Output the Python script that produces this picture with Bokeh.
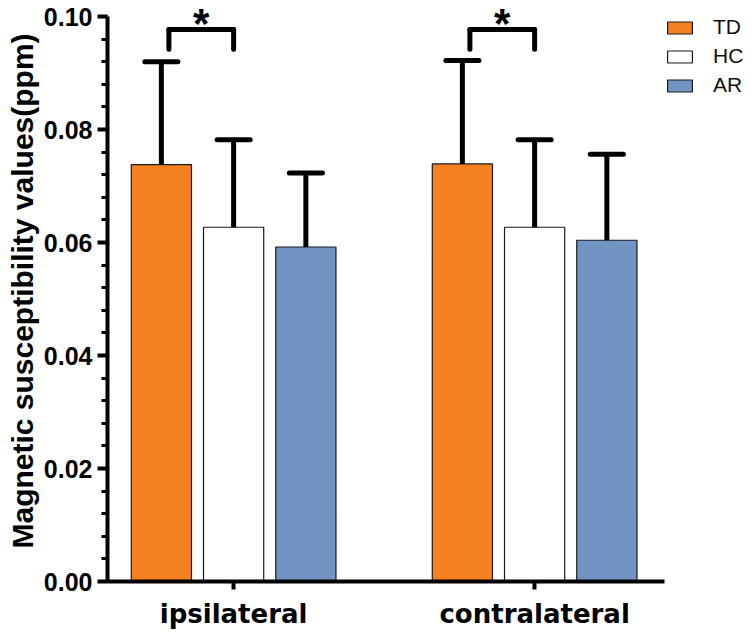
from bokeh.plotting import figure
from bokeh.models import (ColumnDataSource, Range1d, SingleIntervalTicker, FixedTicker,
                          Legend, LegendItem, PrintfTickFormatter)
from bokeh.transform import dodge
from bokeh.core.properties import value
from bokeh.embed import file_html
from bokeh.resources import INLINE

# ---- data ----
categories = ["ipsilateral", "contralateral"]
groups = ["TD", "HC", "AR"]
td_mean = [0.0738, 0.0739]
td_sd = [0.0182, 0.0183]
hc_mean = [0.0627, 0.0627]
hc_sd = [0.0155, 0.0155]
ar_mean = [0.0592, 0.0604]
ar_sd = [0.0131, 0.0152]
sig_mark = ["*", "*"]
bracket_top = 0.0977
bracket_leg = 0.0942
star_y = 0.0987
y_label = "Magnetic susceptibility values(ppm)"

# ---- styles ----
colors = {"TD": "#F48020", "HC": "#FFFFFF", "AR": "#7194C2"}
offsets = {"TD": -0.24, "HC": 0.0, "AR": 0.24}
bar_w = 0.2
cap_half = 0.055

# category slots on the x scale (slot centres at i + 0.5)
xc = [i + 0.5 for i in range(len(categories))]

src = ColumnDataSource(dict(
    cat=categories, xc=xc,
    TD=td_mean, HC=hc_mean, AR=ar_mean,
    TD_top=[m + s for m, s in zip(td_mean, td_sd)],
    HC_top=[m + s for m, s in zip(hc_mean, hc_sd)],
    AR_top=[m + s for m, s in zip(ar_mean, ar_sd)],
    sig=sig_mark,
))

x_start = 0.081
x_axis_end = 1.9315
p = figure(
    x_range=Range1d(x_start, 2.2305),
    y_range=Range1d(0, 0.102832),
    width=754, height=634,
    output_backend="svg", toolbar_location=None,
    min_border_left=107, min_border_right=0, min_border_top=0, min_border_bottom=53,
)
p.outline_line_color = None
p.xgrid.grid_line_color = None
p.ygrid.grid_line_color = None
p.background_fill_color = "white"

renderers = {}
for g in groups:
    r = p.vbar(x=dodge("xc", offsets[g]), top=g, width=bar_w, source=src,
               fill_color=colors[g], line_color="#1a1a1a", line_width=1.2)
    renderers[g] = r

for g in groups:
    o = offsets[g]
    p.segment(x0=dodge("xc", o), y0=g, x1=dodge("xc", o), y1=g + "_top",
              source=src, line_color="black", line_width=5)
    p.segment(x0=dodge("xc", o - cap_half), y0=g + "_top",
              x1=dodge("xc", o + cap_half), y1=g + "_top",
              source=src, line_color="black", line_width=5, line_cap="round")

# significance brackets (TD vs HC)
bl, br = -0.215, 0.0
p.segment(x0=dodge("xc", bl), y0=bracket_top, x1=dodge("xc", br), y1=bracket_top,
          source=src, line_color="black", line_width=5, line_cap="round")
for xo in (bl, br):
    p.segment(x0=dodge("xc", xo), y0=bracket_top, x1=dodge("xc", xo), y1=bracket_leg,
              source=src, line_color="black", line_width=5, line_cap="round")
p.text(x=dodge("xc", (bl + br) / 2), y=star_y, text="sig", source=src,
       text_font=value("Liberation Sans"), text_font_style="bold", text_font_size="42px",
       text_align="center", text_baseline="alphabetic", text_color="black")

# axes
ya = p.yaxis[0]
ya.ticker = SingleIntervalTicker(interval=0.02, num_minor_ticks=5)
ya.formatter = PrintfTickFormatter(format="%.2f")
ya.bounds = (0, 0.1)
ya.axis_line_width = 4
ya.major_tick_line_width = 4
ya.minor_tick_line_width = 3
ya.major_tick_out = 10
ya.major_tick_in = 0
ya.minor_tick_out = 6
ya.minor_tick_in = 0
ya.major_label_standoff = 5
ya.major_label_text_font = "Liberation Sans"
ya.major_label_text_font_style = "bold"
ya.major_label_text_font_size = "25px"
ya.major_label_text_color = "black"
ya.axis_label = y_label
ya.axis_label_text_font = "Liberation Sans"
ya.axis_label_text_font_style = "bold"
ya.axis_label_text_font_size = "30px"
ya.axis_label_text_color = "black"
ya.axis_label_standoff = 2

xa = p.xaxis[0]
xa.ticker = FixedTicker(ticks=xc, minor_ticks=[])
xa.major_label_overrides = {x: c for x, c in zip(xc, categories)}
xa.bounds = (x_start, x_axis_end)
xa.axis_line_width = 4
xa.major_tick_line_width = 4
xa.major_tick_out = 8
xa.major_tick_in = 0
xa.minor_tick_line_color = None
xa.major_label_standoff = 9
xa.major_label_text_font = "DejaVu Sans"
xa.major_label_text_font_style = "bold"
xa.major_label_text_font_size = "26px"
xa.major_label_text_color = "black"

legend = Legend(
    items=[LegendItem(label=g, renderers=[renderers[g]]) for g in groups],
    location=(557, 484),
    glyph_width=31, glyph_height=15, label_standoff=18, label_height=22,
    label_text_font="Liberation Sans", label_text_font_size="21px", label_text_color="#111111",
    spacing=5, padding=2, margin=0,
    border_line_color=None, background_fill_alpha=0,
)
p.add_layout(legend)

open("out.html", "w").write(file_html(p, INLINE))
